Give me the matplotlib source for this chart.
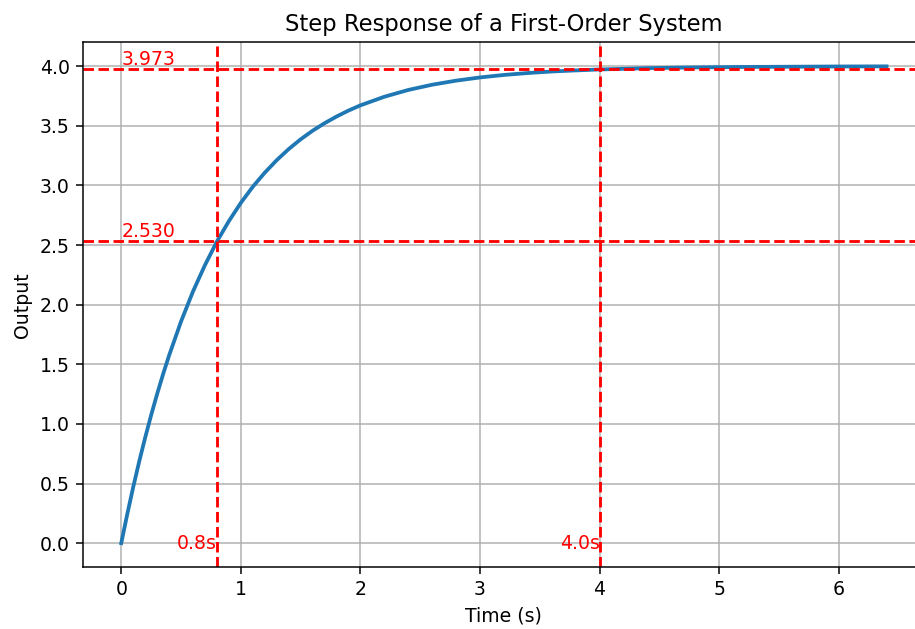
import matplotlib
matplotlib.use("Agg")
import matplotlib.pyplot as plt

# values
t = [0.0, 0.05, 0.1, 0.15, 0.2, 0.25, 0.3, 0.35, 0.4, 0.5, 0.6, 0.7, 0.8, 0.9,
     1.0, 1.1, 1.2, 1.3, 1.4, 1.5, 1.6, 1.7, 1.8, 1.9, 2.0, 2.2, 2.4, 2.6,
     2.8, 3.0, 3.2, 3.4, 3.6, 3.8, 4.0, 4.4, 4.8, 5.2, 5.6, 6.0, 6.4]
y = [0.0, 0.242, 0.470, 0.684, 0.885, 1.074, 1.251, 1.418, 1.574, 1.859,
     2.111, 2.332, 2.530, 2.701, 2.854, 2.989, 3.107, 3.212, 3.305, 3.387,
     3.459, 3.522, 3.578, 3.628, 3.672, 3.744, 3.801, 3.845, 3.879, 3.906,
     3.927, 3.943, 3.956, 3.965, 3.973, 3.984, 3.990, 3.994, 3.996, 3.998,
     3.999]

mark_times = [0.8, 4.0]
mark_values = [2.530, 3.973]

fig = plt.figure(figsize=(915 / 136, 629 / 136), dpi=136)
ax = fig.add_axes([0.0907, 0.0986, 0.920, 0.834])

ax.plot(t, y, linewidth=2)
for v in mark_values:
    ax.axhline(v, color='red', linestyle='--')
    ax.text(0, v, f'{v:.3f}', color='red', va='bottom', ha='left')
for tm in mark_times:
    ax.axvline(tm, color='red', linestyle='--')
    ax.text(tm, 0, f'{tm}s', color='red', va='center', ha='right')

ax.set_xlim(-0.32, 6.72)
ax.set_ylim(-0.2, 4.2)
ax.set_title('Step Response of a First-Order System')
ax.set_xlabel('Time (s)')
ax.set_ylabel('Output')
ax.grid(True)

fig.savefig('out.png', dpi=136)
